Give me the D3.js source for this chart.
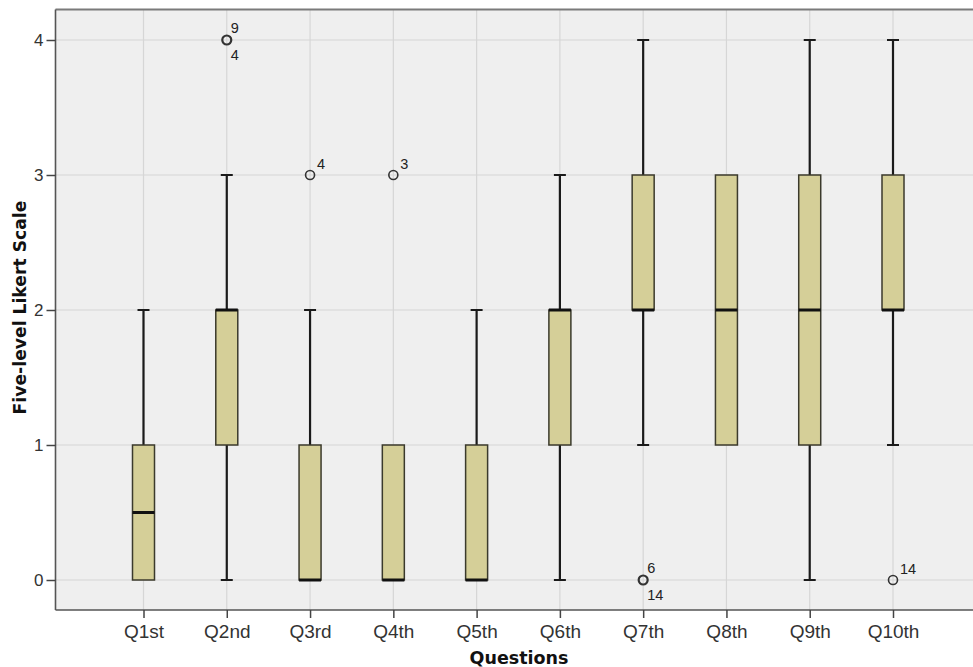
<!DOCTYPE html>
<html>
<head>
<meta charset="utf-8">
<script src="https://cdn.jsdelivr.net/npm/d3@7"></script>
<style>
  html, body { margin: 0; padding: 0; background: #ffffff; }
  svg { display: block; }
</style>
</head>
<body>
<svg id="chart" width="973" height="667"></svg>
<script>
// Five-number summaries per question (Likert responses 0–4)
const questions = ["Q1st", "Q2nd", "Q3rd", "Q4th", "Q5th", "Q6th", "Q7th", "Q8th", "Q9th", "Q10th"];
const whiskerLow  = [0, 0, 0, 0, 0, 0, 1, 1, 0, 1];
const quartile1   = [0, 1, 0, 0, 0, 1, 2, 1, 1, 2];
const medians     = [0.5, 2, 0, 0, 0, 2, 2, 2, 2, 2];
const quartile3   = [1, 2, 1, 1, 1, 2, 3, 3, 3, 3];
const whiskerHigh = [2, 3, 2, 1, 2, 3, 4, 3, 4, 4];

// Outlying responses with the case numbers that produced them
const outlierQuestion = ["Q2nd", "Q3rd", "Q4th", "Q7th", "Q10th"];
const outlierValue    = [4, 3, 3, 0, 0];
const outlierCases    = [["9", "4"], ["4"], ["3"], ["6", "14"], ["14"]];

const yTicks = [0, 1, 2, 3, 4];

const svg = d3.select("#chart");
const plot = { left: 55.5, top: 9.5, right: 985, bottom: 610 };

const x = d3.scalePoint().domain(questions).range([143.5, 893]);
const y = d3.scaleLinear().domain([0, 4]).range([580, 40]);

// plot background
svg.append("rect")
  .attr("x", plot.left).attr("y", plot.top)
  .attr("width", plot.right - plot.left).attr("height", plot.bottom - plot.top)
  .attr("fill", "#efefef");

// gridlines
const grid = svg.append("g").attr("stroke", "#d6d6d6").attr("stroke-width", 1.2);
grid.selectAll("line.h").data(yTicks).join("line")
  .attr("x1", plot.left).attr("x2", plot.right)
  .attr("y1", d => y(d)).attr("y2", d => y(d));
grid.selectAll("line.v").data(questions).join("line")
  .attr("x1", d => x(d)).attr("x2", d => x(d))
  .attr("y1", plot.top).attr("y2", plot.bottom);

// frame
svg.append("line").attr("x1", plot.left).attr("x2", plot.right)
  .attr("y1", plot.top).attr("y2", plot.top)
  .attr("stroke", "#7a7a7a").attr("stroke-width", 2);
svg.append("line").attr("x1", plot.left).attr("x2", plot.left)
  .attr("y1", plot.top).attr("y2", plot.bottom)
  .attr("stroke", "#555").attr("stroke-width", 1.6);
svg.append("line").attr("x1", plot.left).attr("x2", plot.right)
  .attr("y1", plot.bottom).attr("y2", plot.bottom)
  .attr("stroke", "#555").attr("stroke-width", 1.6);

// axes
const tickFont = "'Liberation Sans', Arial, sans-serif";
const xAxis = svg.append("g")
  .attr("transform", `translate(0,${plot.bottom})`)
  .call(d3.axisBottom(x).tickSize(8).tickPadding(7));
xAxis.select(".domain").remove();
xAxis.selectAll(".tick line").attr("stroke", "#444").attr("stroke-width", 1.5);
xAxis.selectAll(".tick text")
  .attr("font-family", tickFont).attr("font-size", 19).attr("fill", "#333");

const yAxis = svg.append("g")
  .attr("transform", `translate(${plot.left},0)`)
  .call(d3.axisLeft(y).tickValues(yTicks).tickFormat(d3.format("d")).tickSize(9).tickPadding(3));
yAxis.select(".domain").remove();
yAxis.selectAll(".tick line").attr("stroke", "#444").attr("stroke-width", 1.5);
yAxis.selectAll(".tick text")
  .attr("font-family", tickFont).attr("font-size", 17).attr("fill", "#333");

// axis titles
const titleFont = "'DejaVu Sans', Verdana, sans-serif";
svg.append("text")
  .attr("x", 519).attr("y", 664)
  .attr("text-anchor", "middle")
  .attr("font-family", titleFont).attr("font-weight", "bold").attr("font-size", 17.5)
  .attr("fill", "#111")
  .text("Questions");
svg.append("text")
  .attr("transform", "translate(26,307.5) rotate(-90)")
  .attr("text-anchor", "middle")
  .attr("font-family", titleFont).attr("font-weight", "bold").attr("font-size", 17.2)
  .attr("fill", "#111")
  .text("Five-level Likert Scale");

// boxes
const stats = questions.map((q, i) => ({
  q, lo: whiskerLow[i], q1: quartile1[i], med: medians[i], q3: quartile3[i], hi: whiskerHigh[i]
}));
const boxW = 22, capW = 12;
const boxes = svg.append("g").selectAll("g").data(stats).join("g")
  .attr("transform", d => `translate(${x(d.q)},0)`);

// whiskers
boxes.filter(d => d.hi > d.q3).append("line")
  .attr("y1", d => y(d.q3)).attr("y2", d => y(d.hi))
  .attr("stroke", "#1a1a1a").attr("stroke-width", 2.2);
boxes.filter(d => d.hi > d.q3).append("line")
  .attr("x1", -capW / 2).attr("x2", capW / 2)
  .attr("y1", d => y(d.hi)).attr("y2", d => y(d.hi))
  .attr("stroke", "#1a1a1a").attr("stroke-width", 2);
boxes.filter(d => d.lo < d.q1).append("line")
  .attr("y1", d => y(d.q1)).attr("y2", d => y(d.lo))
  .attr("stroke", "#1a1a1a").attr("stroke-width", 2.2);
boxes.filter(d => d.lo < d.q1).append("line")
  .attr("x1", -capW / 2).attr("x2", capW / 2)
  .attr("y1", d => y(d.lo)).attr("y2", d => y(d.lo))
  .attr("stroke", "#1a1a1a").attr("stroke-width", 2);

// interquartile box
boxes.append("rect")
  .attr("x", -boxW / 2).attr("width", boxW)
  .attr("y", d => y(d.q3)).attr("height", d => y(d.q1) - y(d.q3))
  .attr("fill", "#d5cf98").attr("stroke", "#3b3a2c").attr("stroke-width", 1.5);

// median
boxes.append("line")
  .attr("x1", -boxW / 2).attr("x2", boxW / 2)
  .attr("y1", d => y(d.med)).attr("y2", d => y(d.med))
  .attr("stroke", "#111").attr("stroke-width", 3);

// outliers with case labels
const outliers = outlierQuestion.map((q, i) => ({ q, v: outlierValue[i], cases: outlierCases[i] }));
const og = svg.append("g").selectAll("g").data(outliers).join("g")
  .attr("transform", d => `translate(${x(d.q)},${y(d.v)})`);
og.append("circle")
  .attr("r", 4.5).attr("fill", "none")
  .attr("stroke", "#333").attr("stroke-width", d => d.cases.length > 1 ? 2.2 : 1.6);
og.append("text")
  .attr("x", d => d.cases.length > 1 ? 4 : 7)
  .attr("y", d => d.cases.length > 1 ? -7 : -6)
  .attr("font-family", tickFont).attr("font-size", 14.5).attr("fill", "#222")
  .text(d => d.cases[0]);
og.filter(d => d.cases.length > 1).append("text")
  .attr("x", 4).attr("y", 20)
  .attr("font-family", tickFont).attr("font-size", 14.5).attr("fill", "#222")
  .text(d => d.cases[1]);
</script>
</body>
</html>
